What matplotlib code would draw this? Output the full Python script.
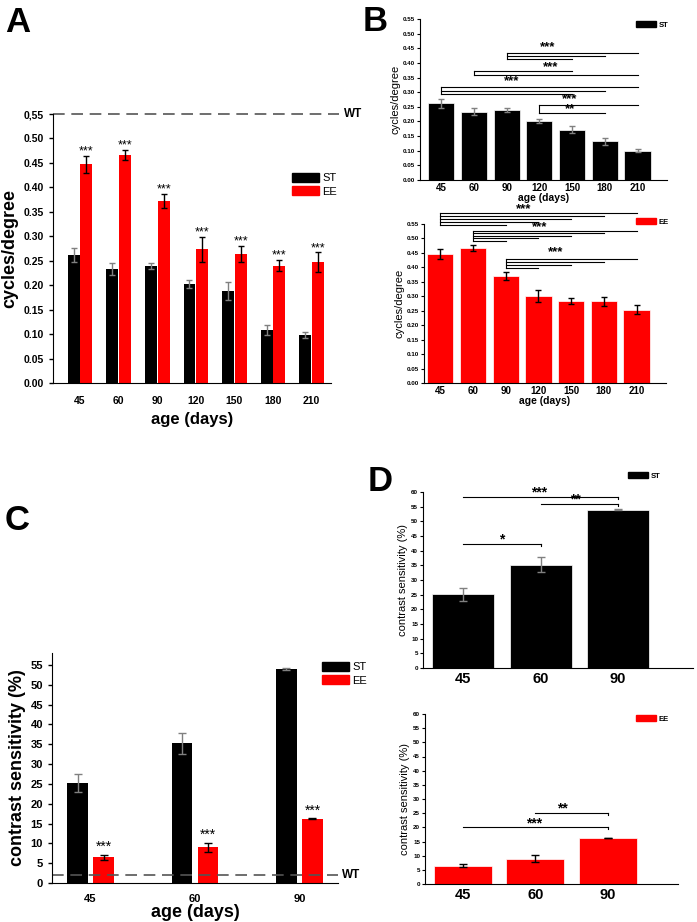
import matplotlib
matplotlib.use("Agg")
import matplotlib.pyplot as plt
from matplotlib.patches import Patch
import numpy as np

plt.rcParams['font.family'] = ['Liberation Sans', 'DejaVu Sans']

# ---- data ----
ages = ['45', '60', '90', '120', '150', '180', '210']

# panel A: visual acuity, ST vs EE
a_st = [0.262, 0.233, 0.240, 0.202, 0.188, 0.109, 0.098]
a_st_err = [0.015, 0.012, 0.006, 0.008, 0.018, 0.010, 0.006]
a_ee = [0.447, 0.466, 0.372, 0.273, 0.264, 0.240, 0.247]
a_ee_err = [0.018, 0.011, 0.015, 0.025, 0.016, 0.011, 0.020]
a_wt = 0.55

# panel B
b_st = [0.262, 0.233, 0.240, 0.202, 0.172, 0.133, 0.100]
b_st_err = [0.015, 0.012, 0.006, 0.008, 0.012, 0.012, 0.006]
b_ee = [0.447, 0.467, 0.371, 0.300, 0.284, 0.283, 0.254]
b_ee_err = [0.018, 0.010, 0.014, 0.020, 0.010, 0.016, 0.017]

# comb brackets: (start index, end indices, line heights)
b_st_combs = [(2, [6, 5, 4], [0.435, 0.424, 0.413]),
              (1, [4, 6], [0.372, 0.358]),
              (0, [6, 5, 4], [0.317, 0.305, 0.293]),
              (3, [6, 5], [0.257, 0.230])]
b_st_stars = [(3.26, 0.455, '***'), (3.35, 0.387, '***'), (2.16, 0.336, '***'),
              (3.93, 0.277, '***'), (3.93, 0.241, '**')]
b_ee_combs = [(0, [6, 5, 4, 3, 2], [0.588, 0.577, 0.566, 0.557, 0.545]),
              (1, [6, 5, 4, 3, 2], [0.527, 0.519, 0.510, 0.500, 0.490]),
              (2, [6, 5, 4, 3], [0.430, 0.420, 0.408, 0.397])]
b_ee_stars = [(2.54, 0.600, '***'), (3.03, 0.540, '***'), (3.52, 0.452, '***')]

# panel C / D: contrast sensitivity
c_ages = ['45', '60', '90']
c_st = [25.2, 35.2, 54.0]
c_st_err = [2.2, 2.6, 0.2]
c_ee = [6.5, 9.0, 16.2]
c_ee_err = [0.6, 1.1, 0.1]
c_wt = 2.0

d_st_lines = [(0, 2, 58.3, '***', 0.98), (1, 2, 55.9, '**', 1.45), (0, 1, 42.3, '*', 0.5)]
d_ee_lines = [(1, 2, 25.1, '**', 1.38), (0, 2, 20.1, '***', 0.98)]

RED = '#ff0000'
GREY_ERR = '#808080'

fig = plt.figure(figsize=(6.97, 9.22), dpi=100)


def fpos(l, t, r, b):
    return [l / 697, 1 - b / 922, (r - l) / 697, (b - t) / 922]


def clean(ax):
    ax.spines['top'].set_visible(False)
    ax.spines['right'].set_visible(False)


# ---------------- A ----------------
ax = fig.add_axes(fpos(53, 114, 331, 383))
clean(ax)
x = np.arange(len(ages))
w = 0.31
ax.bar(x - 0.165, a_st, w, color='black', yerr=a_st_err,
       error_kw=dict(ecolor=GREY_ERR, capsize=2.5, elinewidth=1, capthick=1))
ax.bar(x + 0.165, a_ee, w, color=RED, yerr=a_ee_err,
       error_kw=dict(ecolor='black', capsize=2.5, elinewidth=1, capthick=1))
for i in range(len(ages)):
    ax.text(x[i] + 0.165, a_ee[i] + a_ee_err[i] + 0.009, '***', ha='center',
            va='center', fontsize=9)
ax.plot([0, 1.03], [a_wt, a_wt], transform=ax.get_yaxis_transform(), clip_on=False,
        color='#555555', lw=1.2, ls=(0, (7, 4)))
ax.text(1.045, a_wt, 'WT', transform=ax.get_yaxis_transform(), fontsize=8.5,
        fontweight='bold', va='center')
ax.set_xlim(-0.7, 6.5)
ax.set_ylim(0, 0.55)
yt = np.arange(0, 0.551, 0.05)
ax.set_yticks(yt)
ax.set_yticklabels(['%.2f' % v for v in yt[:-1]] + ['0,55'], fontsize=7.5, fontweight='bold')
ax.set_xticks(x)
ax.set_xticklabels(ages, fontsize=7.5, fontweight='bold')
ax.tick_params(axis='x', length=0, pad=9)
ax.tick_params(axis='y', length=3, width=1)
ax.set_ylabel('cycles/degree', fontsize=13, fontweight='bold', labelpad=4)
ax.set_xlabel('age (days)', fontsize=12, fontweight='bold', labelpad=5)
ax.legend(handles=[Patch(color='black', label='ST'), Patch(color=RED, label='EE')],
          loc='upper left', bbox_to_anchor=(292 / 697, 1 - 173 / 922),
          bbox_transform=fig.transFigure, frameon=False, fontsize=8,
          handlelength=2.4, handleheight=0.9, handletextpad=0.3, labelspacing=0.25,
          borderpad=0, borderaxespad=0)
fig.text(5 / 697, 1 - 32 / 922, 'A', fontsize=25, fontweight='bold')


def comb(ax, start, ends, ys):
    ax.plot([start, start], [min(ys), max(ys)], color='black', lw=0.8, clip_on=False)
    for e, yy in zip(ends, ys):
        ax.plot([start, e], [yy, yy], color='black', lw=0.8, clip_on=False)


def small_panel(ax, vals, errs, color, ecolor):
    clean(ax)
    xx = np.arange(len(vals))
    ax.bar(xx, vals, 0.8, color=color, edgecolor='white', linewidth=0.5, yerr=errs,
           error_kw=dict(ecolor=ecolor, capsize=2.5, elinewidth=1, capthick=1))
    ax.set_ylim(0, 0.55)
    ax.set_yticks(np.arange(0, 0.551, 0.05))
    ax.set_yticklabels(['%.2f' % v for v in np.arange(0, 0.551, 0.05)], fontsize=4.5,
                       fontweight='bold')
    ax.set_xticks(xx)
    ax.set_xticklabels(ages, fontsize=7, fontweight='bold')
    ax.tick_params(axis='x', length=0, pad=2)
    ax.tick_params(axis='y', length=2, width=0.8, pad=1.5)
    ax.set_ylabel('cycles/degree', fontsize=8, labelpad=2)
    ax.set_xlabel('age (days)', fontsize=7.5, fontweight='bold', labelpad=0)
    return xx


# ---------------- B top ----------------
ax = fig.add_axes(fpos(420, 19, 667, 180))
small_panel(ax, b_st, b_st_err, 'black', GREY_ERR)
for s, ends, ys in b_st_combs:
    comb(ax, s, ends, ys)
for sx, sy, s in b_st_stars:
    ax.text(sx, sy, s, ha='center', va='center', fontsize=9.5, fontweight='bold')
ax.set_xlim(-0.65, 6.9)
ax.legend(handles=[Patch(color='black', label='ST')], loc='upper left',
          bbox_to_anchor=(636 / 697, 1 - 21 / 922), bbox_transform=fig.transFigure,
          frameon=False, prop=dict(size=5.5, weight='bold'), handlelength=2.6,
          handleheight=0.9, handletextpad=0.4, borderpad=0, borderaxespad=0)
fig.text(363 / 697, 1 - 31 / 922, 'B', fontsize=25, fontweight='bold')

# ---------------- B bottom ----------------
ax = fig.add_axes(fpos(424, 224, 666, 383))
small_panel(ax, b_ee, b_ee_err, RED, 'black')
for s, ends, ys in b_ee_combs:
    comb(ax, s, ends, ys)
for sx, sy, s in b_ee_stars:
    ax.text(sx, sy, s, ha='center', va='center', fontsize=9.5, fontweight='bold')
ax.set_xlim(-0.5, 6.9)
ax.legend(handles=[Patch(color=RED, label='EE')], loc='upper left',
          bbox_to_anchor=(636 / 697, 1 - 218 / 922), bbox_transform=fig.transFigure,
          frameon=False, prop=dict(size=5.5, weight='bold'), handlelength=2.6,
          handleheight=0.9, handletextpad=0.4, borderpad=0, borderaxespad=0)

# ---------------- C ----------------
ax = fig.add_axes(fpos(52, 653, 338, 883))
clean(ax)
x = np.arange(len(c_ages))
ax.bar(x - 0.125, c_st, 0.2, color='black', yerr=c_st_err,
       error_kw=dict(ecolor=GREY_ERR, capsize=3, elinewidth=1, capthick=1))
ax.bar(x + 0.125, c_ee, 0.2, color=RED, yerr=c_ee_err,
       error_kw=dict(ecolor='black', capsize=3, elinewidth=1, capthick=1))
for i in range(len(c_ages)):
    ax.text(x[i] + 0.125, c_ee[i] + c_ee_err[i] + 2.0, '***', ha='center', va='center',
            fontsize=10)
ax.plot([0, 1.0], [c_wt, c_wt], transform=ax.get_yaxis_transform(), clip_on=False,
        color='#555555', lw=1.2, ls=(0, (7, 4)))
ax.text(1.015, c_wt, 'WT', transform=ax.get_yaxis_transform(), fontsize=8.5,
        fontweight='bold', va='center')
ax.set_xlim(-0.37, 2.37)
ax.set_ylim(0, 58)
ax.set_yticks(np.arange(0, 56, 5))
ax.set_yticklabels([str(v) for v in range(0, 56, 5)], fontsize=8, fontweight='bold')
ax.set_xticks(x)
ax.set_xticklabels(c_ages, fontsize=8, fontweight='bold')
ax.tick_params(axis='x', length=0, pad=8)
ax.tick_params(axis='y', length=3, width=1)
ax.set_ylabel('contrast sensitivity (%)', fontsize=13, fontweight='bold', labelpad=3)
ax.set_xlabel('age (days)', fontsize=13, fontweight='bold', labelpad=0)
ax.legend(handles=[Patch(color='black', label='ST'), Patch(color=RED, label='EE')],
          loc='upper left', bbox_to_anchor=(322 / 697, 1 - 662 / 922),
          bbox_transform=fig.transFigure, frameon=False, fontsize=8,
          handlelength=2.4, handleheight=0.9, handletextpad=0.3, labelspacing=0.25,
          borderpad=0, borderaxespad=0)
fig.text(5 / 697, 1 - 530 / 922, 'C', fontsize=25, fontweight='bold')


def d_panel(ax, vals, errs, color, ecolor, lines):
    clean(ax)
    xx = np.arange(len(vals))
    ax.bar(xx, vals, 0.8, color=color, edgecolor='white', linewidth=0.5, yerr=errs,
           error_kw=dict(ecolor=ecolor, capsize=3, elinewidth=1, capthick=1))
    for s, e, yy, st, sx in lines:
        ax.plot([s, e], [yy, yy], color='black', lw=0.8)
        ax.plot([e, e], [yy, yy - 0.8], color='black', lw=0.8)
        ax.text(sx, yy + 1.4, st, ha='center', va='center', fontsize=10,
                fontweight='bold')
    ax.set_xlim(-0.52, 2.97)
    ax.set_ylim(0, 60)
    ax.set_yticks(np.arange(0, 61, 5))
    ax.set_yticklabels([str(v) for v in range(0, 61, 5)], fontsize=4.5, fontweight='bold')
    ax.set_xticks(xx)
    ax.set_xticklabels(c_ages, fontsize=10.5, fontweight='bold')
    ax.tick_params(axis='x', length=0, pad=3)
    ax.tick_params(axis='y', length=2, width=0.8, pad=1.5)
    ax.set_ylabel('contrast sensitivity (%)', fontsize=8, labelpad=2)


# ---------------- D top ----------------
ax = fig.add_axes(fpos(423, 492, 693, 668))
d_panel(ax, c_st, c_st_err, 'black', GREY_ERR, d_st_lines)
ax.legend(handles=[Patch(color='black', label='ST')], loc='upper left',
          bbox_to_anchor=(628 / 697, 1 - 472 / 922), bbox_transform=fig.transFigure,
          frameon=False, prop=dict(size=5.5, weight='bold'), handlelength=2.6,
          handleheight=0.9, handletextpad=0.4, borderpad=0, borderaxespad=0)
fig.text(368 / 697, 1 - 491 / 922, 'D', fontsize=25, fontweight='bold')

# ---------------- D bottom ----------------
ax = fig.add_axes(fpos(425, 714, 678, 884))
d_panel(ax, c_ee, c_ee_err, RED, 'black', d_ee_lines)
ax.legend(handles=[Patch(color=RED, label='EE')], loc='upper left',
          bbox_to_anchor=(636 / 697, 1 - 715 / 922), bbox_transform=fig.transFigure,
          frameon=False, prop=dict(size=5.5, weight='bold'), handlelength=2.6,
          handleheight=0.9, handletextpad=0.4, borderpad=0, borderaxespad=0)

fig.savefig('out.png', dpi=100)
